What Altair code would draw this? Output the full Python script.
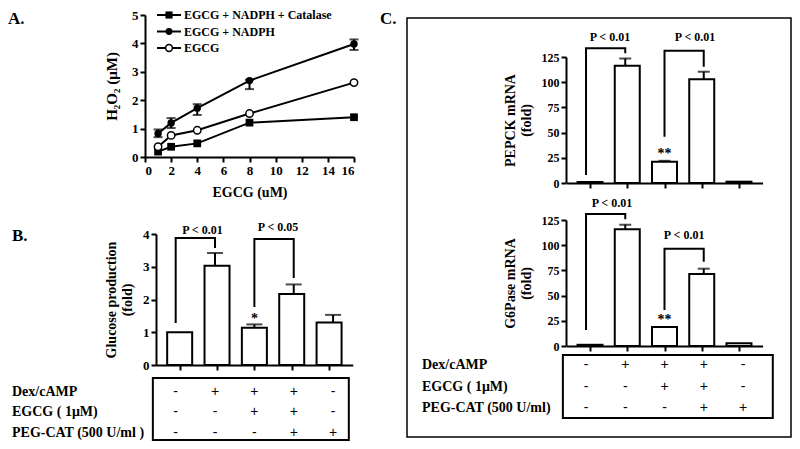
import altair as alt
import pandas as pd

SERIF = "Liberation Serif"
SANS = "Liberation Sans"
W, H = 784, 433

# ---------------- data ----------------
# Panel A: H2O2 generation
a_conc = [1, 2, 4, 8, 16]
a_catalase = [0.19, 0.36, 0.48, 1.21, 1.40]
a_nadph = [0.83, 1.20, 1.72, 2.69, 3.98]
a_nadph_lo = [0.70, 1.02, 1.48, 2.39, 3.77]
a_nadph_hi = [0.97, 1.37, 1.86, 2.72, 4.14]
a_egcg = [0.36, 0.76, 0.94, 1.53, 2.62]
a_legend = ["EGCG + NADPH + Catalase", "EGCG + NADPH", "EGCG"]

# Panel B / C: treatment groups
groups = [1, 2, 3, 4, 5]
b_glucose = [1.00, 3.03, 1.14, 2.17, 1.30]
b_err = [None, 3.42, 1.24, 2.46, 1.53]
c_pepck = [1.0, 116.4, 21.0, 103.0, 1.3]
c_pepck_err = [None, 123.5, 22.0, 110.4, None]
c_g6p = [1.2, 115.8, 18.8, 71.4, 2.7]
c_g6p_err = [None, 120.3, None, 76.7, None]

# brackets: (left group, left y, top y, right group, right y, label, label x, label y)
b_brackets = [(1, 1.28, 3.88, 2, 3.57, "P < 0.01", 1.68, 4.12),
              (3, 1.77, 3.85, 4, 2.66, "P < 0.05", 3.60, 4.20)]
c1_brackets = [(1, 8.0, 133.6, 2, 128.6, "P < 0.01", 1.61, 145.0),
               (3, 46.0, 131.3, 4, 115.4, "P < 0.01", 3.78, 145.0)]
c2_brackets = [(1, 15.9, 131.0, 2, 125.7, "P < 0.01", 1.66, 142.0),
               (3, 35.7, 96.5, 4, 83.6, "P < 0.01", 3.50, 110.0)]
b_stars = [(3, 1.40, "*")]
c1_stars = [(3, 29.0, "**")]
c2_stars = [(3, 25.5, "**")]

rows_b = ["Dex/cAMP", "EGCG ( 1\u03bcM)", "PEG-CAT (500 U/ml )"]
rows_c = ["Dex/cAMP", "EGCG ( 1\u03bcM)", "PEG-CAT (500 U/ml)"]
treat = [["-", "+", "+", "+", "-"],
         ["-", "-", "+", "+", "-"],
         ["-", "-", "-", "+", "+"]]


def sc(domain, rng):
    return alt.Scale(domain=domain, range=rng, nice=False, zero=False)


AXSTYLE = dict(domainColor="black", domainWidth=2, tickColor="black", tickWidth=2, tickSize=5,
               labelFont=SERIF, labelFontWeight="bold", labelColor="black",
               titleFont=SERIF, titleFontWeight="bold", titleColor="black", grid=False)

dummy = pd.DataFrame({"d": [0]})
layers = []

# ---------------- Panel C frame (background) ----------------
layers.append(alt.Chart(dummy).mark_rect(fill="white", fillOpacity=0, stroke="black", strokeWidth=1.5).encode(
    x=alt.value(399), x2=alt.value(783), y=alt.value(10), y2=alt.value(429)))

# ---------------- Panel A ----------------
AX = sc([0, 16], [137, 346])
AY = sc([0, 5], [149, 7])
a_df = pd.DataFrame({
    "conc": a_conc * 3,
    "h2o2": a_catalase + a_nadph + a_egcg,
    "series": [s for s in a_legend for _ in a_conc],
})
layers.append(alt.Chart(a_df).mark_line(color="black", strokeWidth=2).encode(
    x=alt.X("conc:Q", scale=AX, axis=alt.Axis(orient="bottom", offset=149 - H, values=list(range(0, 17, 2)),
                                               title="EGCG (uM)", labelFontSize=13, titleFontSize=14,
                                               titlePadding=8, **AXSTYLE)),
    y=alt.Y("h2o2:Q", scale=AY, axis=alt.Axis(orient="left", offset=-137, values=[0, 1, 2, 3, 4, 5],
                                               title="H\u2082O\u2082 (\u03bcM)", labelFontSize=13,
                                               titleFontSize=15, titlePadding=12, **AXSTYLE)),
    detail="series:N"))

a_err_df = pd.DataFrame({"conc": a_conc, "lo": a_nadph_lo, "hi": a_nadph_hi})
layers.append(alt.Chart(a_err_df).mark_rule(color="black", strokeWidth=2).encode(
    x=alt.X("conc:Q", scale=AX, axis=None), y=alt.Y("lo:Q", scale=AY, axis=None), y2="hi:Q"))
for f in ["lo", "hi"]:
    layers.append(alt.Chart(a_err_df).mark_tick(orient="horizontal", color="black", thickness=2, size=9).encode(
        x=alt.X("conc:Q", scale=AX, axis=None), y=alt.Y(f + ":Q", scale=AY, axis=None)))


def a_markers(df, series_name, xfield, yfield, scale_size=1.0):
    if series_name == a_legend[0]:
        m = alt.Chart(df).mark_square(color="black", size=60 * scale_size, opacity=1)
    elif series_name == a_legend[1]:
        m = alt.Chart(df).mark_circle(color="black", size=55 * scale_size, opacity=1)
    else:
        m = alt.Chart(df).mark_point(shape="circle", fill="white", stroke="black", strokeWidth=1.5,
                                     size=55 * scale_size, opacity=1, filled=False)
    return m.encode(x=xfield, y=yfield)


for s in a_legend:
    sub = a_df[a_df["series"] == s]
    layers.append(a_markers(sub, s, alt.X("conc:Q", scale=AX, axis=None),
                            alt.Y("h2o2:Q", scale=AY, axis=None)))

# legend of panel A
LY = sc([0, 2], [7, 40])
leg_df = pd.DataFrame({"row": [0, 1, 2], "label": a_legend})
layers.append(alt.Chart(leg_df).mark_rule(color="black", strokeWidth=2).encode(
    x=alt.value(149), x2=alt.value(173), y=alt.Y("row:Q", scale=LY, axis=None)))
for i, s in enumerate(a_legend):
    sub = leg_df[leg_df["row"] == i]
    layers.append(a_markers(sub, s, alt.value(161), alt.Y("row:Q", scale=LY, axis=None), 0.85))
layers.append(alt.Chart(leg_df).mark_text(align="left", baseline="middle", font=SERIF, fontWeight="bold",
                                          fontSize=12, color="black").encode(
    x=alt.value(176), y=alt.Y("row:Q", scale=LY, axis=None), text="label:N"))


# ---------------- bar panels ----------------
def bar_panel(vals, errs, brackets, stars, XS, YS, x_axis_y, y_axis_x, y_values, y_title,
              label_size, title_pad, cap, bar_size):
    out = []
    df = pd.DataFrame({"k": groups, "v": vals})
    out.append(alt.Chart(df).mark_bar(orient="vertical", fill="white", stroke="black", strokeWidth=2,
                                      size=bar_size).encode(
        x=alt.X("k:Q", scale=XS, axis=alt.Axis(orient="bottom", offset=x_axis_y - H, values=groups,
                                                labels=False, title=None, **AXSTYLE)),
        y=alt.Y("v:Q", scale=YS, axis=alt.Axis(orient="left", offset=-y_axis_x, values=y_values,
                                                title=y_title, labelFontSize=label_size, titleFontSize=14,
                                                titlePadding=title_pad, **AXSTYLE)),
        y2=alt.datum(0)))
    edf = pd.DataFrame({"k": groups, "v": vals, "e": errs}).dropna()
    out.append(alt.Chart(edf).mark_rule(color="black", strokeWidth=2).encode(
        x=alt.X("k:Q", scale=XS, axis=None), y=alt.Y("v:Q", scale=YS, axis=None), y2="e:Q"))
    out.append(alt.Chart(edf).mark_tick(orient="horizontal", color="black", thickness=2, size=cap).encode(
        x=alt.X("k:Q", scale=XS, axis=None), y=alt.Y("e:Q", scale=YS, axis=None)))
    recs, labs = [], []
    for i, (k1, y1, yt, k2, y2, lab, kt, ytx) in enumerate(brackets):
        for o, (kk, yy) in enumerate([(k1, y1), (k1, yt), (k2, yt), (k2, y2)]):
            recs.append({"id": i, "o": o, "k": kk, "y": yy})
        labs.append({"k": kt, "y": ytx, "t": lab})
    out.append(alt.Chart(pd.DataFrame(recs)).mark_line(color="black", strokeWidth=2, strokeJoin="miter").encode(
        x=alt.X("k:Q", scale=XS, axis=None), y=alt.Y("y:Q", scale=YS, axis=None),
        detail="id:N", order="o:Q"))
    out.append(alt.Chart(pd.DataFrame(labs)).mark_text(font=SERIF, fontWeight="bold", fontSize=12,
                                                       baseline="middle", color="black").encode(
        x=alt.X("k:Q", scale=XS, axis=None), y=alt.Y("y:Q", scale=YS, axis=None), text="t:N"))
    sdf = pd.DataFrame([{"k": k, "y": y, "t": t} for k, y, t in stars])
    out.append(alt.Chart(sdf).mark_text(font=SERIF, fontWeight="bold", fontSize=14, baseline="middle",
                                        color="black").encode(
        x=alt.X("k:Q", scale=XS, axis=None), y=alt.Y("y:Q", scale=YS, axis=None), text="t:N"))
    return out


def table(row_names, XS, TY, box, label_x):
    out = []
    x0, x1, y0, y1 = box
    out.append(alt.Chart(dummy).mark_rect(fill="white", fillOpacity=0, stroke="black", strokeWidth=2).encode(
        x=alt.X("a:Q", scale=XS, axis=None), x2="b:Q",
        y=alt.Y("c:Q", scale=TY, axis=None), y2="e:Q").transform_calculate(
        a=str(x0), b=str(x1), c=str(y0), e=str(y1)))
    sg = pd.DataFrame([{"k": groups[j], "row": i + 1, "s": treat[i][j]}
                       for i in range(3) for j in range(5)])
    out.append(alt.Chart(sg).mark_text(font=SANS, fontSize=14, baseline="middle", color="black").encode(
        x=alt.X("k:Q", scale=XS, axis=None), y=alt.Y("row:Q", scale=TY, axis=None), text="s:N"))
    rl = pd.DataFrame({"row": [1, 2, 3], "name": row_names})
    out.append(alt.Chart(rl).mark_text(font=SERIF, fontWeight="bold", fontSize=14, align="left",
                                       baseline="middle", color="black").encode(
        x=alt.value(label_x), y=alt.Y("row:Q", scale=TY, axis=None), text="name:N"))
    return out


# Panel B
BX = sc([0.5, 5.5], [148, 344.75])
BY = sc([0, 4], [357, 226])
layers += bar_panel(b_glucose, b_err, b_brackets, b_stars, BX, BY, 357, 148, [0, 1, 2, 3, 4],
                    ["Glucose production", "(fold)"], 13, 8, 16, 25)
BTY = sc([0.33, 3.35], [370, 432])
layers += table(rows_b, BX, BTY, (0.42, 5.40, 0.33, 3.35), 4)

# Panel C
CX = sc([0.5, 5.5], [558.4, 754.6])
C1Y = sc([0, 125], [175, 49])
C2Y = sc([0, 125], [338, 212])
layers += bar_panel(c_pepck, c_pepck_err, c1_brackets, c1_stars, CX, C1Y, 175, 558,
                    [0, 25, 50, 75, 100, 125], ["PEPCK mRNA", "(fold)"], 12, 8, 12, 25)
layers += bar_panel(c_g6p, c_g6p_err, c2_brackets, c2_stars, CX, C2Y, 338, 558,
                    [0, 25, 50, 75, 100, 125], ["G6Pase mRNA", "(fold)"], 12, 8, 12, 25)
CTY = sc([0.54, 3.45], [347, 410])
layers += table(rows_c, CX, CTY, (0.41, 5.76, 0.54, 3.45), 414)

# Panel letters
for lab, px, py in [("A.", 0, 11), ("B.", 4, 228), ("C.", 372, 11)]:
    layers.append(alt.Chart(dummy).mark_text(font=SERIF, fontWeight="bold", fontSize=17, align="left",
                                             baseline="middle", color="black", text=lab).encode(
        x=alt.value(px), y=alt.value(py)))

chart = alt.layer(*layers).resolve_scale(x="independent", y="independent").properties(
    width=W, height=H, autosize=alt.AutoSizeParams(type="none"), padding=0, background="white"
).configure_view(stroke=None).configure_axis(**AXSTYLE)

chart.save("out.html", embed_options={"renderer": "svg", "actions": False})
